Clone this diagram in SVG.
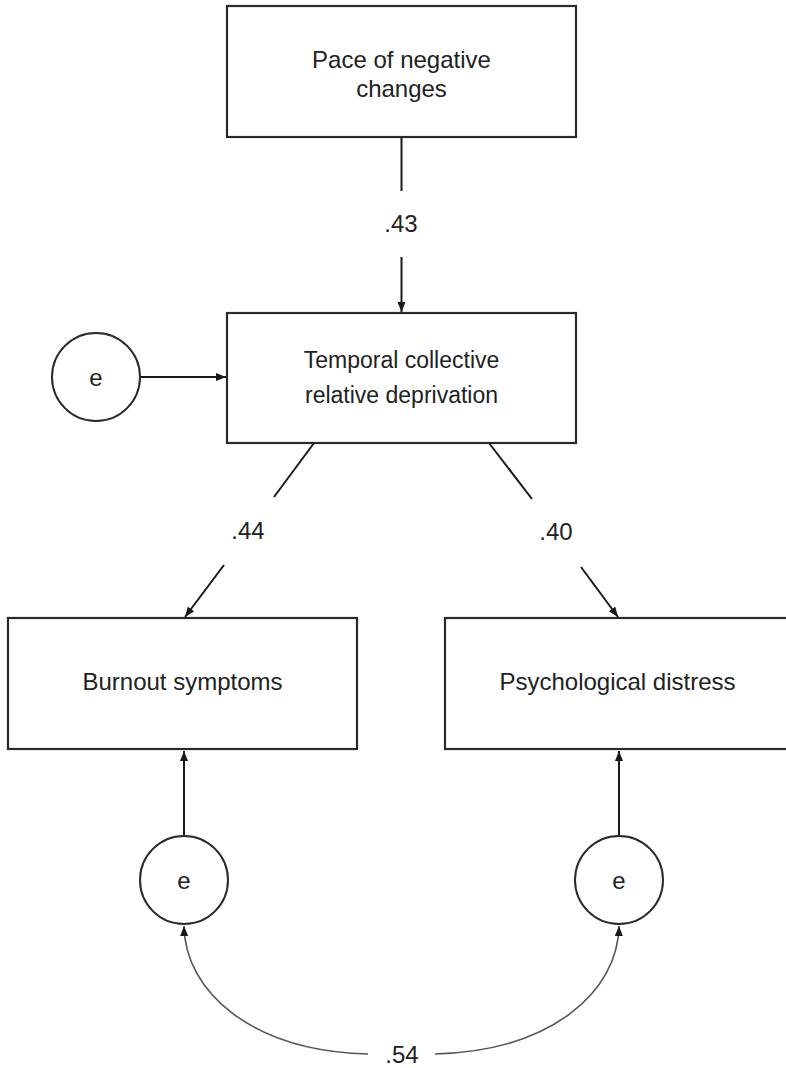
<svg xmlns="http://www.w3.org/2000/svg" width="786" height="1068" viewBox="0 0 786 1068">
  <defs>
    <marker id="arr" markerUnits="userSpaceOnUse" markerWidth="12" markerHeight="10" refX="10" refY="4" orient="auto">
      <path d="M0,0 L10,4 L0,8 Z" fill="#1a1a1a"/>
    </marker>
    <style>
      .box { fill: #ffffff; stroke: #2a2a2a; stroke-width: 2.2; }
      .circ { fill: #ffffff; stroke: #2a2a2a; stroke-width: 2; }
      .lbl { font-family: "Liberation Sans", Arial, sans-serif; font-size: 24px; fill: #222222; text-anchor: middle; }
      .num { font-family: "Liberation Sans", Arial, sans-serif; font-size: 24px; fill: #222222; text-anchor: middle; }
      .edge { stroke: #1a1a1a; stroke-width: 2; fill: none; }
      .arc { stroke: #555555; stroke-width: 1.6; fill: none; }
    </style>
  </defs>
  <rect width="786" height="1068" fill="#ffffff"/>

  <g id="connectors">
    <line class="edge" x1="401.5" y1="137" x2="401.5" y2="191"/>
    <line class="edge" x1="401.5" y1="257" x2="401.5" y2="312" marker-end="url(#arr)"/>
    <line class="edge" x1="140" y1="377" x2="226" y2="377" marker-end="url(#arr)"/>
    <line class="edge" x1="314" y1="443" x2="274" y2="497"/>
    <line class="edge" x1="224" y1="565" x2="185" y2="617" marker-end="url(#arr)"/>
    <line class="edge" x1="489" y1="443" x2="532" y2="499"/>
    <line class="edge" x1="581" y1="567" x2="618" y2="617" marker-end="url(#arr)"/>
    <line class="edge" x1="184" y1="835" x2="184" y2="751" marker-end="url(#arr)"/>
    <line class="edge" x1="619" y1="835" x2="619" y2="751" marker-end="url(#arr)"/>
    <path class="arc" d="M368,1054 C252,1051 185,992 184,926" marker-end="url(#arr)"/>
    <path class="arc" d="M435,1054 C551,1051 618,992 619,926" marker-end="url(#arr)"/>
    <text class="num" x="401" y="232">.43</text>
    <text class="num" x="248" y="539">.44</text>
    <text class="num" x="556" y="540">.40</text>
    <text class="num" x="402" y="1063">.54</text>
  </g>

  <g id="pace">
    <rect class="box" x="227" y="6" width="349" height="131"/>
    <text class="lbl" x="401.5" y="68">Pace of negative</text>
    <text class="lbl" x="401.5" y="97">changes</text>
  </g>

  <g id="temporal">
    <rect class="box" x="227" y="313" width="349" height="130"/>
    <text class="lbl" x="401.5" y="368" style="font-size:23px">Temporal collective</text>
    <text class="lbl" x="401.5" y="403" style="font-size:23px">relative deprivation</text>
  </g>

  <g id="e1">
    <ellipse class="circ" cx="96" cy="377" rx="44" ry="44"/>
    <text class="lbl" x="96" y="386">e</text>
  </g>

  <g id="burnout">
    <rect class="box" x="8" y="618" width="349" height="131"/>
    <text class="lbl" x="182.5" y="690">Burnout symptoms</text>
  </g>

  <g id="distress">
    <rect class="box" x="445" y="618" width="349" height="131"/>
    <text class="lbl" x="617.5" y="690">Psychological distress</text>
  </g>

  <g id="e2">
    <ellipse class="circ" cx="184" cy="880" rx="44" ry="44"/>
    <text class="lbl" x="184" y="889">e</text>
  </g>

  <g id="e3">
    <ellipse class="circ" cx="619" cy="880" rx="44" ry="44"/>
    <text class="lbl" x="619" y="889">e</text>
  </g>
</svg>
